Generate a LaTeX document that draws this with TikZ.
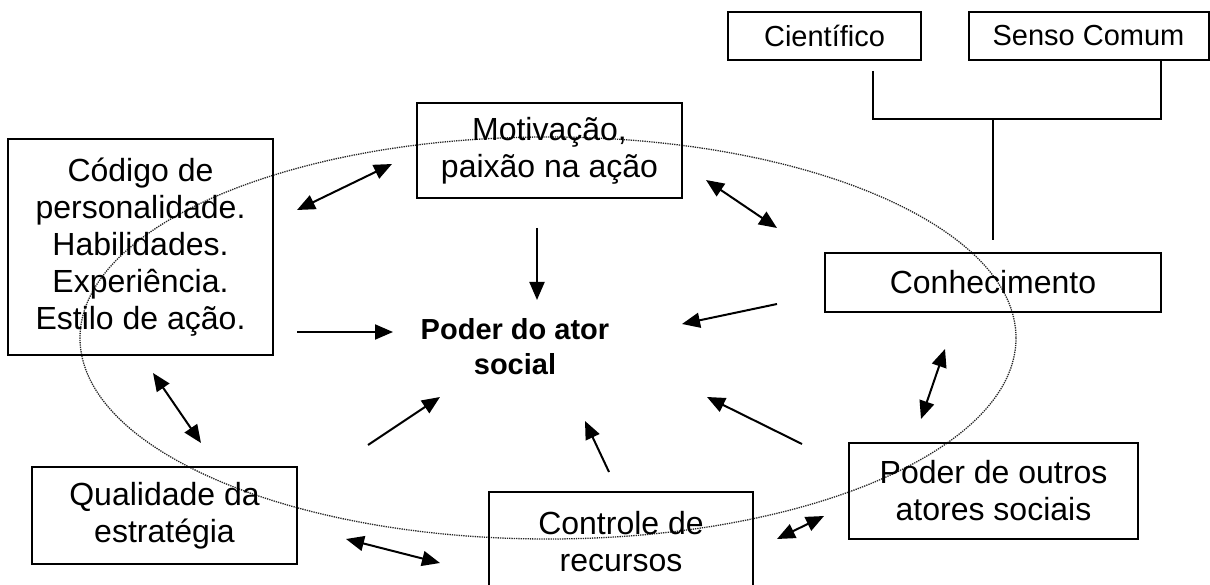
\documentclass[tikz,border=0pt]{standalone}
\usepackage{fontspec}
\setmainfont{Liberation Sans}
\usetikzlibrary{arrows.meta}
\begin{document}
\begin{tikzpicture}[x=1pt,y=-1pt,
  box/.style={draw,line width=2pt,inner sep=0pt,align=center,font=\fontsize{32}{37}\selectfont},
  smallbox/.style={draw,line width=2pt,inner sep=0pt,align=center,font=\fontsize{29}{33}\selectfont},
  arr/.style={line width=2pt,-{Triangle[length=18pt,width=15pt]}},
  darr/.style={line width=2pt,{Triangle[length=18pt,width=15pt]}-{Triangle[length=18pt,width=15pt]}},
  conn/.style={line width=2pt},
  orbit/.style={densely dotted,line width=1.3pt,black!85}]
\useasboundingbox (0,0) rectangle (1210,585);
\clip (0,0) rectangle (1210,585);
% dotted ellipse
\draw[orbit] (548,338) ellipse [x radius=468, y radius=201];
% boxes
\node[box,minimum width=265,minimum height=216] (codigo) at (140.5,247) {Código de\\personalidade.\\Habilidades.\\Experiência.\\Estilo de ação.};
\node[box,minimum width=265,minimum height=95] (motiv) at (549.5,150.5) {Motivação,\\paixão na ação};
\node[box,minimum width=336,minimum height=59] (conhec) at (993,282.5) {Conhecimento};
\node[smallbox,minimum width=193,minimum height=48] (cient) at (824.5,36) {Científico};
\node[smallbox,minimum width=240,minimum height=48] (senso) at (1088.5,36) {Senso Comum};
\node[box,minimum width=265,minimum height=97] (qual) at (164.5,515.5) {Qualidade da\\estratégia};
\node[box,minimum width=264,minimum height=100] (contr) at (621,542) {Controle de\\recursos};
\node[box,minimum width=289,minimum height=96] (outros) at (993.5,491) {Poder de outros\\atores sociais};
\node[align=center,inner sep=0pt,font=\bfseries\fontsize{29}{35}\selectfont] (poder) at (515,347) {Poder do ator\\social};
% tree connector
\coordinate (c1) at (873,71);
\coordinate (c2) at (873,119);
\coordinate (c3) at (1161,119);
\coordinate (c4) at (1161,60);
\coordinate (c5) at (993,119);
\coordinate (c6) at (993,240);
\draw[conn] (c1) -- (c2) -- (c3) -- (c4);
\draw[conn] (c5) -- (c6);
% arrow end points
\coordinate (a1s) at (297,210); \coordinate (a1e) at (392,164);
\coordinate (a2s) at (297,332); \coordinate (a2e) at (393,332);
\coordinate (a3s) at (537,228); \coordinate (a3e) at (537,300);
\coordinate (a4s) at (706,180); \coordinate (a4e) at (777,228);
\coordinate (a5s) at (777,304); \coordinate (a5e) at (682,324);
\coordinate (a6s) at (945,349); \coordinate (a6e) at (921,419);
\coordinate (a7s) at (802,444); \coordinate (a7e) at (707,397);
\coordinate (a8s) at (609,472); \coordinate (a8e) at (585,421);
\coordinate (a9s) at (368,445); \coordinate (a9e) at (440,397);
\coordinate (a10s) at (346,539); \coordinate (a10e) at (440,563);
\coordinate (a11s) at (153,373); \coordinate (a11e) at (201,443);
\coordinate (a12s) at (777,539); \coordinate (a12e) at (824,516);
\draw[darr] (a1s) -- (a1e);
\draw[arr] (a2s) -- (a2e);
\draw[arr] (a3s) -- (a3e);
\draw[darr] (a4s) -- (a4e);
\draw[arr] (a5s) -- (a5e);
\draw[darr] (a6s) -- (a6e);
\draw[arr] (a7s) -- (a7e);
\draw[arr] (a8s) -- (a8e);
\draw[arr] (a9s) -- (a9e);
\draw[darr] (a10s) -- (a10e);
\draw[darr] (a11s) -- (a11e);
\draw[darr] (a12s) -- (a12e);
\end{tikzpicture}
\end{document}
